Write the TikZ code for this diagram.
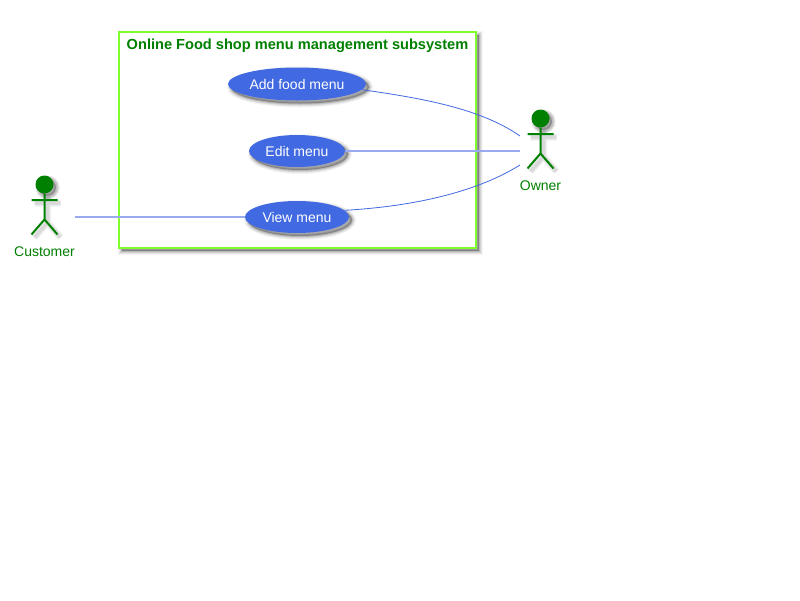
\documentclass[tikz,border=0pt]{standalone}
\usepackage{fontspec}
\setmainfont{Liberation Sans}
\usetikzlibrary{shapes.geometric}
\definecolor{ublue}{HTML}{4169E1}
\definecolor{uflat}{HTML}{98ABEE}
\definecolor{ugreen}{HTML}{008000}
\definecolor{uborder}{HTML}{7FFF2A}
\tikzset{
  softshadow/.style={
    preaction={draw=black,fill=black,opacity=.04,line width=8pt,transform canvas={xshift=3pt,yshift=-3pt}},
    preaction={draw=black,fill=black,opacity=.06,line width=6pt,transform canvas={xshift=3pt,yshift=-3pt}},
    preaction={draw=black,fill=black,opacity=.09,line width=4pt,transform canvas={xshift=3pt,yshift=-3pt}},
    preaction={draw=black,fill=black,opacity=.12,line width=2pt,transform canvas={xshift=3pt,yshift=-3pt}}},
  usecase/.style={ellipse,fill=ublue,softshadow,inner sep=0pt,text=white,font=\fontsize{14}{16}\selectfont},
  subsystem/.style={draw=uborder,fill=white,line width=2pt,softshadow},
  systitle/.style={text=ugreen,font=\fontsize{14.6}{16}\selectfont\bfseries,inner sep=0pt},
  actorlabel/.style={text=ugreen,font=\fontsize{14}{16}\selectfont,inner sep=0pt},
  assoc/.style={draw=ublue,line width=0.8pt},
  assocflat/.style={draw=uflat,line width=1.6pt},
  figstroke/.style={draw=ugreen,line width=2pt},
  figshadow/.style={draw=black,opacity=.05,transform canvas={xshift=3pt,yshift=-3pt}},
  headshadow/.style={fill=black,draw=black,opacity=.09,transform canvas={xshift=3pt,yshift=-3pt}}
}
% #1 node name, #2 centre x, #3 head centre y, #4 label
\newcommand{\stickactor}[4]{%
  \foreach \w in {7,5,3}{
    \fill[headshadow,line width=\w pt] (#2,#3) circle (8.5pt);
    \draw[figshadow,line width=\w pt] (#2-13,#3+15.7) -- (#2+13,#3+15.7)
      (#2,#3+9) -- (#2,#3+35) -- (#2-13,#3+50) (#2,#3+35) -- (#2+13,#3+50);
  }
  \draw[figstroke] (#2-13,#3+15.7) -- (#2+13,#3+15.7)
     (#2,#3+9) -- (#2,#3+35) -- (#2-13,#3+50) (#2,#3+35) -- (#2+13,#3+50);
  \fill[ugreen] (#2,#3) circle (9pt);
  \node[actorlabel] (#1) at (#2,#3+67) {#4};
}
\begin{document}
\begin{tikzpicture}[x=1pt,y=-1pt]
\useasboundingbox (0,0) rectangle (800,600);
\fill[white] (0,0) rectangle (800,600);
\draw[subsystem] (119,32) rectangle (476,248);
\node[systitle] (title) at (297.5,45.5) {Online Food shop menu management subsystem};
\stickactor{customer}{44.5}{184.5}{Customer}
\stickactor{owner}{540.5}{118.5}{Owner}
\coordinate (custend) at (75,217);
\coordinate (ownera) at (520,136);
\coordinate (ownerb) at (520,151);
\coordinate (ownerc) at (520,165);
\node[usecase,minimum width=138pt,minimum height=33pt] (add) at (297,84) {Add food menu};
\node[usecase,minimum width=96pt,minimum height=32pt] (edit) at (297,151) {Edit menu};
\node[usecase,minimum width=104pt,minimum height=32pt] (view) at (297,217) {View menu};
\draw[assoc] (add.-5) .. controls (420,98) and (480,108) .. (ownera);
\draw[assocflat] (edit.east) -- (ownerb);
\draw[assoc] (view.8) .. controls (420,206) and (480,190) .. (ownerc);
\draw[assocflat] (custend) -- (view.west);
\end{tikzpicture}
\end{document}
